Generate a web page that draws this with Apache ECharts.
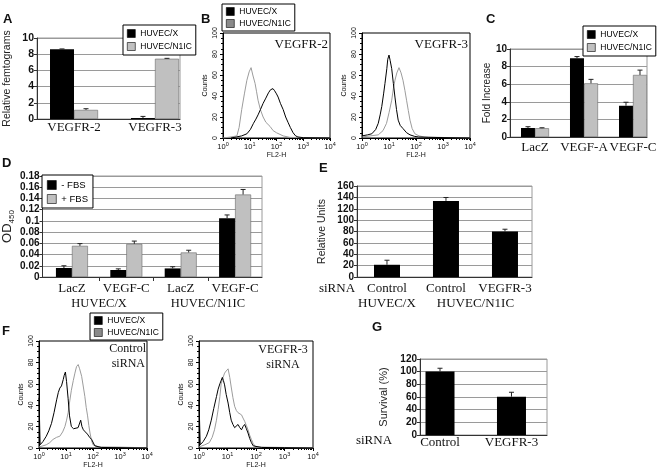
<!DOCTYPE html>
<html>
<head>
<meta charset="utf-8">
<script src="https://cdn.jsdelivr.net/npm/echarts@6/dist/echarts.min.js"></script>
<style>
html,body{margin:0;padding:0;background:#fff;}
#chart{width:664px;height:473px;}
</style>
</head>
<body>
<div id="chart"></div>
<script>
// ================= DATA =================
// Panel A (Relative femtograms)
const aCategories = ['VEGFR-2', 'VEGFR-3'];
const aHuvecX = [8.6, 0.12];
const aHuvecXErr = [0.05, 0.2];
const aHuvecN1IC = [1.12, 7.44];
const aHuvecN1ICErr = [0.15, 0.05];

// Panel C (Fold Increase)
const cCategories = ['LacZ', 'VEGF-A', 'VEGF-C'];
const cHuvecX = [1.02, 8.94, 3.55];
const cHuvecXErr = [0.15, 0.2, 0.4];
const cHuvecN1IC = [1.0, 6.1, 7.05];
const cHuvecN1ICErr = [0.05, 0.45, 0.55];

// Panel D (OD450)
const dCategories = ['LacZ', 'VEGF-C', 'LacZ', 'VEGF-C'];
const dGroups = ['HUVEC/X', 'HUVEC/N1IC'];
const dMinusFBS = [0.016, 0.0125, 0.0153, 0.1046];
const dMinusFBSErr = [0.004, 0.002, 0.003, 0.006];
const dPlusFBS = [0.0555, 0.059, 0.0437, 0.147];
const dPlusFBSErr = [0.004, 0.005, 0.004, 0.009];

// Panel E (Relative Units)
const eCategories = ['Control', 'Control', 'VEGFR-3'];
const eGroups = ['HUVEC/X', 'HUVEC/N1IC'];
const eValues = [21.5, 133.8, 80];
const eErr = [8, 6, 4];

// Panel G (Survival %)
const gCategories = ['Control', 'VEGFR-3'];
const gValues = [100.4, 60.5];
const gErr = [5, 7];

// FACS histograms: [FL2-H, Counts]
const b1HuvecX = [[2,0],[3.2,1],[5,2],[7.8,4],[10.5,8],[13.8,14],[17,18],[20.4,22],[25,27],[31.6,33],[40,38],[50,43],[60,46],[74,47],[85,45],[100,42],[115,39],[140,33],[178,27],[220,20],[269,15],[330,10],[417,5],[520,2],[631,1],[1000,0.3],[10000,0]];
const b1HuvecN1IC = [[1,0],[2,1],[3.3,2],[4,10],[5,27],[6.3,42],[7.8,55],[9.5,63],[11.2,67],[13,60],[15.8,52],[18,44],[20.4,36],[25,27],[31.6,20],[40,15],[57.5,11],[75,7],[100,5],[178,2],[316,0.6],[1000,0.3],[10000,0]];
const b2HuvecX = [[1,2],[1.6,3],[2.3,4],[3.2,8],[4,14],[4.7,22],[5.4,30],[6.3,42],[7.1,52],[8.3,66],[9,75],[10,79],[11,74],[12.6,66],[14.5,52],[16.6,39],[19,27],[21.9,17],[26,12],[33,9],[45,5],[60,3],[90,1.5],[126,1],[300,0.6],[1000,0.4],[10000,0]];
const b2HuvecN1IC = [[1,1],[2,2],[4,3],[6,7],[8.1,14],[10,24],[12.6,36],[14.5,47],[16.6,55],[19.5,62],[23.4,67],[28,62],[33,55],[39,45],[44.7,36],[52,26],[60,17],[72,9],[91,4],[130,2],[200,1],[1000,0.5],[10000,0]];
const f1HuvecX = [[1,47],[1.1,3],[1.4,6],[1.86,11],[2.3,16],[2.9,23],[3.6,33],[4.5,45],[5.2,52],[5.9,56],[6.8,58],[7.9,64],[8.6,68],[9.5,71],[10.5,62],[12,46],[13.5,30],[15.8,20],[19,18],[22,17],[28,19],[35,26],[39,20],[44,17],[52,15],[62,13],[75,10],[89,8],[117,2],[200,0.5],[1000,0.3],[10000,0]];
const f1HuvecN1IC = [[1,1],[1.4,2],[1.86,3],[2.5,5],[3.3,8],[4.5,10],[5.9,11],[7.5,15],[9.1,20],[10.5,26],[12,33],[13.8,44],[15.8,54],[18.6,63],[21.4,70],[24.5,76],[28.2,78],[32,74],[38,67],[44,57],[50,48],[56,38],[63,30],[70,21],[77.6,14],[88,7],[100,3],[150,1.5],[200,1],[1000,0.8],[3162,0.5],[10000,0]];
const f2HuvecX = [[1,45],[1.1,3],[1.4,6],[1.82,11],[2.2,17],[2.7,26],[3.3,37],[4.1,48],[4.7,55],[5.4,60],[6.6,66],[7.2,63],[7.9,59],[9,50],[10.5,42],[12,33],[13.5,26],[15.5,22],[17.8,19],[20,20],[23.4,22],[27,19],[31,17],[35,20],[40,22],[46,18],[52.5,14],[60,9],[69,5],[80,2],[89,1],[158,0.5],[1000,0.3],[10000,0]];
const f2HuvecN1IC = [[1,1],[1.6,3],[2.3,5],[2.9,10],[3.5,17],[4.1,26],[4.7,36],[5.4,48],[6,60],[7,66],[7.9,70],[9,72],[10.5,74],[12,66],[13.5,57],[15.5,47],[17.8,39],[20.5,35],[23.4,33],[27,32],[31,31],[35,28],[40,25],[46,21],[52.5,17],[60,12],[69,8],[80,4],[98,1],[200,0.8],[1000,0.5],[10000,0]];

// ================= STYLE HELPERS =================
const SANS = "'Liberation Sans', Arial, sans-serif";
const SERIF = "'Liberation Serif', 'Times New Roman', serif";
const GRAYBAR = '#c0c0c0';
const GRAYLINE = '#9c9c9c';
const GRAYKEY = '#8a8a8a';

function barGrid(l, t, w, h) { return {left:l, top:t, width:w, height:h, show:true, borderColor:'#9a9a9a', borderWidth:1}; }
function facsGrid(l, t, w, h) { return {left:l, top:t, width:w, height:h, show:true, borderColor:'#000', borderWidth:1}; }

function labelCfg(cats, positions, margin, fontSize, idxFn) {
  return {customValues: positions, formatter: v => cats[idxFn ? idxFn(v) : Math.round(v)] || '',
    showMinLabel:true, showMaxLabel:true, hideOverlap:false,
    fontFamily:SERIF, fontSize:fontSize, color:'#111', margin:margin, lineHeight:15};
}
function catAxis(gi, min, max, cats, margin, fontSize, extra) {
  return Object.assign({
    type:'value', gridIndex:gi, min:min, max:max, position:'bottom',
    splitLine:{show:false},
    axisLine:{show:true, onZero:false, lineStyle:{color:'#333', width:1}},
    axisTick:{show:false},
    axisLabel:labelCfg(cats, cats.map((c, i) => i), margin, fontSize)
  }, extra || {});
}
function valAxis(gi, max, interval, name, nameGap, nameSize, tickSize) {
  return {type:'value', gridIndex:gi, min:0, max:max, interval:interval,
    name:name, nameLocation:'middle', nameGap:nameGap,
    nameTextStyle:{fontFamily:SANS, fontSize:nameSize, color:'#222'},
    axisLine:{show:true, onZero:false, lineStyle:{color:'#333'}},
    axisTick:{show:true, length:3, lineStyle:{color:'#333'}},
    axisLabel:{fontFamily:SANS, fontWeight:'bold', fontSize:tickSize, color:'#111', margin:3},
    splitLine:{show:true, lineStyle:{color:'#9a9a9a', width:1}}};
}
function facsX(gi) {
  return {type:'log', logBase:10, gridIndex:gi, min:1, max:10000,
    name:'FL2-H', nameLocation:'middle', nameGap:12,
    nameTextStyle:{fontFamily:SANS, fontSize:7, color:'#111'},
    axisLine:{show:true, onZero:false, lineStyle:{color:'#000'}},
    axisTick:{show:true, length:3, lineStyle:{color:'#000'}},
    minorTick:{show:true, splitNumber:9, length:2, lineStyle:{color:'#000'}},
    splitLine:{show:false},
    axisLabel:{margin:3, color:'#111',
      formatter: v => '{b|10}{s|' + Math.round(Math.log10(v)) + '}',
      rich:{b:{fontFamily:SANS, fontSize:7.5, lineHeight:10, verticalAlign:'bottom', color:'#111'},
            s:{fontFamily:SANS, fontSize:5.5, lineHeight:6, verticalAlign:'top', color:'#111'}}}};
}
function facsY(gi) {
  return {type:'value', gridIndex:gi, min:0, max:100, interval:20,
    name:'Counts', nameLocation:'middle', nameGap:14,
    nameTextStyle:{fontFamily:SANS, fontSize:7, color:'#111'},
    axisLine:{show:true, onZero:false, lineStyle:{color:'#000'}},
    axisTick:{show:true, length:3, lineStyle:{color:'#000'}},
    minorTick:{show:true, splitNumber:4, length:2, lineStyle:{color:'#000'}},
    splitLine:{show:false},
    axisLabel:{rotate:90, fontFamily:SANS, fontSize:7, color:'#111', margin:4}};
}
function bars(gi, name, vals, color, bw) {
  return {type:'bar', name:name, xAxisIndex:gi, yAxisIndex:gi, barWidth:bw, barGap:'0%',
    data: vals.map((v, i) => [i, v]),
    itemStyle:{color:color, borderColor: color === '#000' ? '#000' : '#6a6a6a', borderWidth: color === '#000' ? 0 : 0.6},
    silent:true};
}
function errs(gi, vals, errsArr, shift) {
  return {type:'custom', xAxisIndex:gi, yAxisIndex:gi, silent:true, z:5,
    data: vals.map((v, i) => [i, v, errsArr[i]]),
    encode:{x:0, y:1},
    renderItem: function (params, api) {
      const x = api.value(0), v = api.value(1), e = api.value(2);
      const p = api.coord([x, v]), q = api.coord([x, v + e]);
      const cx = p[0] + shift;
      return {type:'group', children:[
        {type:'line', shape:{x1:cx, y1:p[1], x2:cx, y2:q[1]}, style:{stroke:'#222', lineWidth:1}},
        {type:'line', shape:{x1:cx - 2.5, y1:q[1], x2:cx + 2.5, y2:q[1]}, style:{stroke:'#222', lineWidth:1}}
      ]};
    }};
}
function facsLine(gi, name, data, color) {
  return {type:'line', name:name, xAxisIndex:gi, yAxisIndex:gi, data:data, showSymbol:false, symbol:'none',
    lineStyle:{color:color, width:1}, itemStyle:{color:color}, silent:true};
}
function legendBox(left, top, items, fontSize, pad, gap, iconSize) {
  return {left:left, top:top, orient:'vertical', padding:pad, itemGap:gap, itemWidth:iconSize, itemHeight:iconSize,
    backgroundColor:'#fff', borderColor:'#000', borderWidth:1, borderRadius:0, selectedMode:false,
    textStyle:{fontFamily:SANS, fontSize:fontSize, color:'#000'},
    data: items.map(it => ({name:it[0], icon:'rect', itemStyle:{color:it[1], borderColor:'#000', borderWidth:0.6}}))};
}
function txt(x, y, text, font, align) {
  return {type:'text', x:x, y:y, silent:true, style:{text:text, font:font, fill:'#111', align:align || 'left', verticalAlign:'middle'}};
}

const option = {
  animation:false,
  textStyle:{fontFamily:SANS},
  grid:[
    barGrid(37, 38, 143, 81),     // 0 A
    facsGrid(223, 33, 107, 105),  // 1 B1
    facsGrid(362, 33, 108, 105),  // 2 B2
    barGrid(510, 49, 137, 88),    // 3 C
    barGrid(42, 176, 220, 101),   // 4 D
    barGrid(357, 186, 175, 91),   // 5 E
    facsGrid(39, 341, 108, 107),  // 6 F1
    facsGrid(199, 341, 114, 107), // 7 F2
    barGrid(420, 359, 127, 76)    // 8 G
  ],
  xAxis:[
    catAxis(0, -0.457, 1.309, aCategories, 1.5, 13),
    facsX(1),
    facsX(2),
    catAxis(3, -0.51, 2.286, cCategories, 3.5, 13),
    catAxis(4, -0.541, 3.495, dCategories, 4, 13,
      {axisTick:{show:true, customValues:[0.5, 1.5, 2.5], length:4, lineStyle:{color:'#333'}}}),
    catAxis(5, -0.508, 2.458, eCategories, 4, 13),
    facsX(6),
    facsX(7),
    catAxis(8, -0.28, 1.497, gCategories, 0, 13),
    // D group labels
    catAxis(4, -0.541, 3.495, dGroups, 19, 12.5,
      {axisLine:{show:false}, axisLabel:labelCfg(dGroups, [0.5, 2.5], 19, 12.5, v => Math.floor(v / 2))}),
    // E group labels
    catAxis(5, -0.508, 2.458, eGroups, 19, 13,
      {axisLine:{show:false}, axisLabel:labelCfg(eGroups, [0, 1.5], 19, 13, v => (v < 1 ? 0 : 1))})
  ],
  yAxis:[
    valAxis(0, 10, 2, 'Relative femtograms', 24, 10.5, 10.5),
    facsY(1),
    facsY(2),
    valAxis(3, 10, 2, 'Fold Increase', 16, 10, 10),
    Object.assign(valAxis(4, 0.18, 0.02, '{a|OD}{b|450}', 27, 12, 10), {
      nameTextStyle:{rich:{a:{fontFamily:SANS, fontSize:13, color:'#222', lineHeight:16, verticalAlign:'middle'},
                            b:{fontFamily:SANS, fontSize:8, color:'#222', lineHeight:8, verticalAlign:'bottom'}}}}),
    valAxis(5, 160, 20, 'Relative Units', 29, 10.5, 10),
    facsY(6),
    facsY(7),
    valAxis(8, 120, 20, 'Survival (%)', 31, 11, 10)
  ],
  legend:[
    legendBox(123, 25, [['HUVEC/X', '#000'], ['HUVEC/N1IC', GRAYBAR]], 8.5, [4, 4, 4, 4], 4, 8),
    legendBox(222, 4, [['HUVEC/X', '#000'], ['HUVEC/N1IC', GRAYKEY]], 8.5, [3, 4, 3, 4], 3, 8),
    legendBox(583, 26, [['HUVEC/X', '#000'], ['HUVEC/N1IC', GRAYBAR]], 8.5, [4, 4, 4, 4], 4, 8),
    legendBox(42, 175, [['- FBS', '#000'], ['+ FBS', GRAYBAR]], 9.5, [5, 5, 4, 5], 4, 9),
    legendBox(90, 313, [['HUVEC/X', '#000'], ['HUVEC/N1IC', GRAYKEY]], 8.5, [3, 4, 3, 4], 3, 8)
  ],
  series:[
    // A
    bars(0, 'HUVEC/X', aHuvecX, '#000', 24),
    bars(0, 'HUVEC/N1IC', aHuvecN1IC, GRAYBAR, 24),
    errs(0, aHuvecX, aHuvecXErr, -12),
    errs(0, aHuvecN1IC, aHuvecN1ICErr, 12),
    // B
    facsLine(1, 'HUVEC/N1IC', b1HuvecN1IC, GRAYLINE),
    facsLine(1, 'HUVEC/X', b1HuvecX, '#000'),
    facsLine(2, 'HUVEC/N1IC', b2HuvecN1IC, GRAYLINE),
    facsLine(2, 'HUVEC/X', b2HuvecX, '#000'),
    // C
    bars(3, 'HUVEC/X', cHuvecX, '#000', 14),
    bars(3, 'HUVEC/N1IC', cHuvecN1IC, GRAYBAR, 14),
    errs(3, cHuvecX, cHuvecXErr, -7),
    errs(3, cHuvecN1IC, cHuvecN1ICErr, 7),
    // D
    bars(4, '- FBS', dMinusFBS, '#000', 16),
    bars(4, '+ FBS', dPlusFBS, GRAYBAR, 16),
    errs(4, dMinusFBS, dMinusFBSErr, -8),
    errs(4, dPlusFBS, dPlusFBSErr, 8),
    // E
    bars(5, 'Relative Units', eValues, '#000', 26),
    errs(5, eValues, eErr, 0),
    // F
    facsLine(6, 'HUVEC/N1IC', f1HuvecN1IC, GRAYLINE),
    facsLine(6, 'HUVEC/X', f1HuvecX, '#000'),
    facsLine(7, 'HUVEC/N1IC', f2HuvecN1IC, GRAYLINE),
    facsLine(7, 'HUVEC/X', f2HuvecX, '#000'),
    // G
    bars(8, 'Survival', gValues, '#000', 29),
    errs(8, gValues, gErr, 0)
  ],
  graphic:[
    txt(3, 19, 'A', 'bold 13px ' + SANS),
    txt(201, 19, 'B', 'bold 13px ' + SANS),
    txt(486, 19, 'C', 'bold 13px ' + SANS),
    txt(2, 163, 'D', 'bold 13px ' + SANS),
    txt(319, 168, 'E', 'bold 13px ' + SANS),
    txt(2, 331, 'F', 'bold 13px ' + SANS),
    txt(372, 327, 'G', 'bold 13px ' + SANS),
    txt(328, 45, 'VEGFR-2', '13px ' + SERIF, 'right'),
    txt(468, 45, 'VEGFR-3', '13px ' + SERIF, 'right'),
    txt(146, 349, 'Control', '12px ' + SERIF, 'right'),
    txt(145, 364, 'siRNA', '12px ' + SERIF, 'right'),
    txt(283, 350, 'VEGFR-3', '12px ' + SERIF, 'center'),
    txt(283, 365, 'siRNA', '12px ' + SERIF, 'center'),
    txt(337, 289, 'siRNA', '13px ' + SERIF, 'center'),
    txt(374, 441, 'siRNA', '13px ' + SERIF, 'center')
  ]
};

const chart = echarts.init(document.getElementById('chart'), null, {renderer:'canvas'});
chart.setOption(option);
</script>
</body>
</html>
